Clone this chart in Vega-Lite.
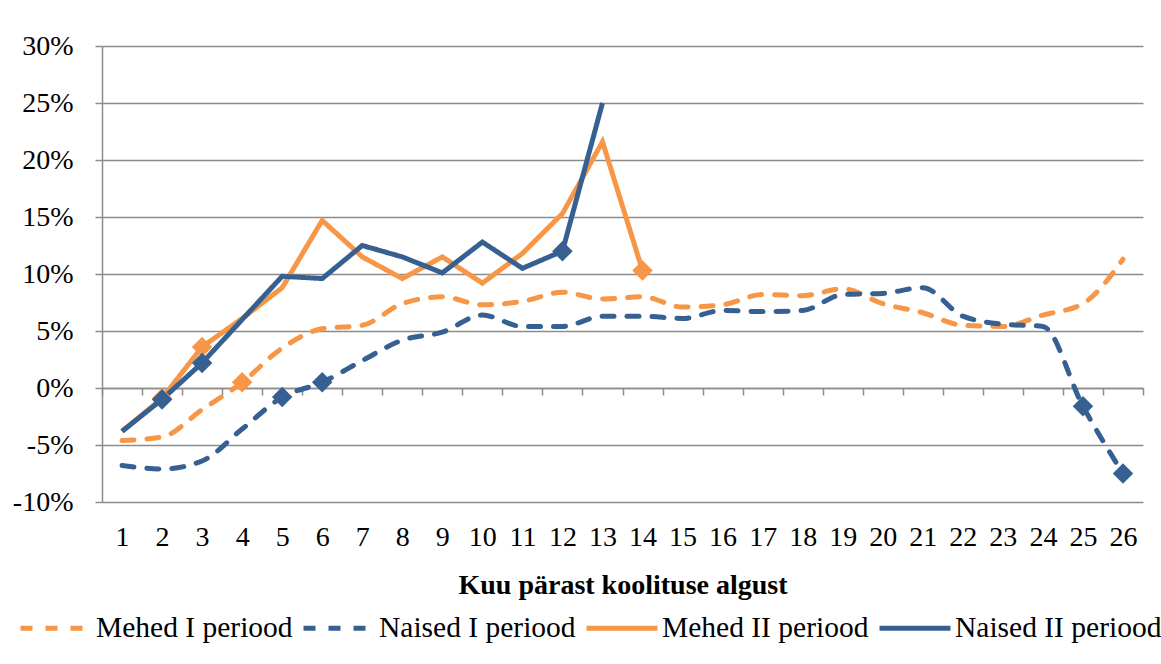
{
  "$schema": "https://vega.github.io/schema/vega-lite/v6.json",
  "width": 1041,
  "height": 456,
  "autosize": {"type": "none"},
  "padding": {"left": 102, "top": 46, "right": 18, "bottom": 162},
  "background": "white",
  "config": {
    "view": {"stroke": null},
    "font": "Liberation Serif",
    "style": {
      "guide-label": {"font": "Liberation Serif", "fill": "black"},
      "guide-title": {"font": "Liberation Serif", "fill": "black"}
    },
    "axis": {
      "labelFont": "Liberation Serif", "labelFontSize": 28, "labelColor": "black",
      "titleFont": "Liberation Serif", "titleFontSize": 28, "titleColor": "black",
      "domainColor": "#8c8c8c", "tickColor": "#8c8c8c", "gridColor": "#8c8c8c",
      "domainWidth": 1.5, "tickWidth": 1.5, "gridWidth": 1.5
    },
    "legend": {"labelFont": "Liberation Serif"}
  },
  "data": {"values": [
    {"m": 1, "s": "Mehed I periood", "v": -0.046},
    {"m": 2, "s": "Mehed I periood", "v": -0.043},
    {"m": 3, "s": "Mehed I periood", "v": -0.019},
    {"m": 4, "s": "Mehed I periood", "v": 0.005, "sig": true},
    {"m": 5, "s": "Mehed I periood", "v": 0.035},
    {"m": 6, "s": "Mehed I periood", "v": 0.052},
    {"m": 7, "s": "Mehed I periood", "v": 0.055},
    {"m": 8, "s": "Mehed I periood", "v": 0.074},
    {"m": 9, "s": "Mehed I periood", "v": 0.080},
    {"m": 10, "s": "Mehed I periood", "v": 0.073},
    {"m": 11, "s": "Mehed I periood", "v": 0.076},
    {"m": 12, "s": "Mehed I periood", "v": 0.084},
    {"m": 13, "s": "Mehed I periood", "v": 0.078},
    {"m": 14, "s": "Mehed I periood", "v": 0.080},
    {"m": 15, "s": "Mehed I periood", "v": 0.071},
    {"m": 16, "s": "Mehed I periood", "v": 0.073},
    {"m": 17, "s": "Mehed I periood", "v": 0.082},
    {"m": 18, "s": "Mehed I periood", "v": 0.081},
    {"m": 19, "s": "Mehed I periood", "v": 0.087},
    {"m": 20, "s": "Mehed I periood", "v": 0.074},
    {"m": 21, "s": "Mehed I periood", "v": 0.066},
    {"m": 22, "s": "Mehed I periood", "v": 0.055},
    {"m": 23, "s": "Mehed I periood", "v": 0.054},
    {"m": 24, "s": "Mehed I periood", "v": 0.064},
    {"m": 25, "s": "Mehed I periood", "v": 0.074},
    {"m": 26, "s": "Mehed I periood", "v": 0.113},
    {"m": 1, "s": "Naised I periood", "v": -0.068},
    {"m": 2, "s": "Naised I periood", "v": -0.071},
    {"m": 3, "s": "Naised I periood", "v": -0.064},
    {"m": 4, "s": "Naised I periood", "v": -0.036},
    {"m": 5, "s": "Naised I periood", "v": -0.008, "sig": true},
    {"m": 6, "s": "Naised I periood", "v": 0.005, "sig": true},
    {"m": 7, "s": "Naised I periood", "v": 0.024},
    {"m": 8, "s": "Naised I periood", "v": 0.042},
    {"m": 9, "s": "Naised I periood", "v": 0.049},
    {"m": 10, "s": "Naised I periood", "v": 0.064},
    {"m": 11, "s": "Naised I periood", "v": 0.054},
    {"m": 12, "s": "Naised I periood", "v": 0.054},
    {"m": 13, "s": "Naised I periood", "v": 0.063},
    {"m": 14, "s": "Naised I periood", "v": 0.063},
    {"m": 15, "s": "Naised I periood", "v": 0.061},
    {"m": 16, "s": "Naised I periood", "v": 0.068},
    {"m": 17, "s": "Naised I periood", "v": 0.067},
    {"m": 18, "s": "Naised I periood", "v": 0.068},
    {"m": 19, "s": "Naised I periood", "v": 0.082},
    {"m": 20, "s": "Naised I periood", "v": 0.083},
    {"m": 21, "s": "Naised I periood", "v": 0.088},
    {"m": 22, "s": "Naised I periood", "v": 0.063},
    {"m": 23, "s": "Naised I periood", "v": 0.056},
    {"m": 24, "s": "Naised I periood", "v": 0.054},
    {"m": 25, "s": "Naised I periood", "v": -0.016, "sig": true},
    {"m": 26, "s": "Naised I periood", "v": -0.075, "sig": true},
    {"m": 1, "s": "Mehed II periood", "v": -0.038},
    {"m": 2, "s": "Mehed II periood", "v": -0.009, "sig": true},
    {"m": 3, "s": "Mehed II periood", "v": 0.036, "sig": true},
    {"m": 4, "s": "Mehed II periood", "v": 0.061},
    {"m": 5, "s": "Mehed II periood", "v": 0.088},
    {"m": 6, "s": "Mehed II periood", "v": 0.147},
    {"m": 7, "s": "Mehed II periood", "v": 0.115},
    {"m": 8, "s": "Mehed II periood", "v": 0.096},
    {"m": 9, "s": "Mehed II periood", "v": 0.115},
    {"m": 10, "s": "Mehed II periood", "v": 0.092},
    {"m": 11, "s": "Mehed II periood", "v": 0.118},
    {"m": 12, "s": "Mehed II periood", "v": 0.153},
    {"m": 13, "s": "Mehed II periood", "v": 0.216},
    {"m": 14, "s": "Mehed II periood", "v": 0.103, "sig": true},
    {"m": 1, "s": "Naised II periood", "v": -0.038},
    {"m": 2, "s": "Naised II periood", "v": -0.010, "sig": true},
    {"m": 3, "s": "Naised II periood", "v": 0.022, "sig": true},
    {"m": 4, "s": "Naised II periood", "v": 0.060},
    {"m": 5, "s": "Naised II periood", "v": 0.098},
    {"m": 6, "s": "Naised II periood", "v": 0.096},
    {"m": 7, "s": "Naised II periood", "v": 0.125},
    {"m": 8, "s": "Naised II periood", "v": 0.115},
    {"m": 9, "s": "Naised II periood", "v": 0.101},
    {"m": 10, "s": "Naised II periood", "v": 0.128},
    {"m": 11, "s": "Naised II periood", "v": 0.105},
    {"m": 12, "s": "Naised II periood", "v": 0.120, "sig": true},
    {"m": 13, "s": "Naised II periood", "v": 0.250}
  ]},
  "encoding": {
    "y": {
      "field": "v", "type": "quantitative",
      "scale": {"domain": [-0.1, 0.3], "nice": false, "zero": false},
      "axis": {
        "values": [-0.1, -0.05, 0, 0.05, 0.1, 0.15, 0.2, 0.25, 0.3],
        "labelExpr": "round(datum.value * 100) + '%'",
        "labelFont": "Liberation Serif", "labelFontSize": 28,
        "grid": true, "tickSize": 7, "labelPadding": 22, "title": null, "domain": true
      }
    },
    "color": {
      "field": "s", "type": "nominal",
      "scale": {
        "domain": ["Mehed I periood", "Naised I periood", "Mehed II periood", "Naised II periood"],
        "range": ["#F79646", "#376092", "#F79646", "#376092"]
      },
      "legend": {
        "title": null, "orient": "none", "legendX": -84, "legendY": 544,
        "direction": "horizontal", "symbolType": "stroke", "symbolSize": 5041,
        "symbolStrokeWidth": 5, "labelFont": "Liberation Serif", "labelFontSize": 29.5,
        "labelColor": "black", "labelOffset": 2, "columnPadding": 0, "labelLimit": 400
      }
    }
  },
  "layer": [
    {
      "transform": [{"filter": {"field": "s", "oneOf": ["Mehed I periood", "Naised I periood"]}}],
      "mark": {"type": "line", "strokeWidth": 5, "interpolate": "monotone", "strokeCap": "round"},
      "encoding": {
        "x": {
          "field": "m", "type": "quantitative",
          "scale": {"domain": [0.5, 26.5], "nice": false, "zero": false},
          "axis": {
            "orient": "bottom",
            "values": [1,2,3,4,5,6,7,8,9,10,11,12,13,14,15,16,17,18,19,20,21,22,23,24,25,26],
            "format": "d", "ticks": false, "domain": false, "grid": false,
            "labelFont": "Liberation Serif", "labelFontSize": 28,
            "labelPadding": 21, "title": "Kuu pärast koolituse algust",
            "titleFont": "Liberation Serif", "titleFontSize": 28,
            "titleFontWeight": "bold", "titlePadding": 20
          }
        },
        "strokeDash": {
          "field": "s", "type": "nominal",
          "scale": {
            "domain": ["Mehed I periood", "Naised I periood", "Mehed II periood", "Naised II periood"],
            "range": [[12, 13], [12, 13], [1, 0], [1, 0]]
          },
          "legend": {
            "title": null, "orient": "none", "legendX": -84, "legendY": 544,
            "direction": "horizontal", "symbolType": "stroke", "symbolSize": 5041,
            "symbolStrokeWidth": 5, "labelFont": "Liberation Serif", "labelFontSize": 29.5,
            "labelColor": "black", "labelOffset": 2, "columnPadding": 0, "labelLimit": 400
          }
        }
      }
    },
    {
      "transform": [{"filter": {"field": "s", "oneOf": ["Mehed II periood", "Naised II periood"]}}],
      "mark": {"type": "line", "strokeWidth": 5},
      "encoding": {
        "x": {"field": "m", "type": "quantitative", "scale": {"domain": [0.5, 26.5], "nice": false, "zero": false}, "axis": null},
        "strokeDash": {
          "field": "s", "type": "nominal",
          "scale": {
            "domain": ["Mehed I periood", "Naised I periood", "Mehed II periood", "Naised II periood"],
            "range": [[12, 13], [12, 13], [1, 0], [1, 0]]
          },
          "legend": {
            "title": null, "orient": "none", "legendX": -84, "legendY": 544,
            "direction": "horizontal", "symbolType": "stroke", "symbolSize": 5041,
            "symbolStrokeWidth": 5, "labelFont": "Liberation Serif", "labelFontSize": 29.5,
            "labelColor": "black", "labelOffset": 2, "columnPadding": 0, "labelLimit": 400
          }
        }
      }
    },
    {
      "transform": [{"filter": "datum.sig"}],
      "mark": {"type": "point", "shape": "diamond", "filled": true, "size": 420, "opacity": 1},
      "encoding": {
        "x": {
          "field": "m", "type": "quantitative",
          "scale": {"domain": [0.5, 26.5], "nice": false, "zero": false},
          "axis": {
            "orient": "bottom",
            "values": [0.5,1.5,2.5,3.5,4.5,5.5,6.5,7.5,8.5,9.5,10.5,11.5,12.5,13.5,14.5,15.5,16.5,17.5,18.5,19.5,20.5,21.5,22.5,23.5,24.5,25.5,26.5],
            "labels": false, "ticks": true, "tickSize": 7, "domain": true, "grid": false,
            "title": null, "offset": -114
          }
        },
        "color": {
          "field": "s", "type": "nominal",
          "scale": {
            "domain": ["Mehed I periood", "Naised I periood", "Mehed II periood", "Naised II periood"],
            "range": ["#F79646", "#376092", "#F79646", "#376092"]
          },
          "legend": null
        }
      }
    }
  ],
  "resolve": {"axis": {"x": "independent"}}
}
